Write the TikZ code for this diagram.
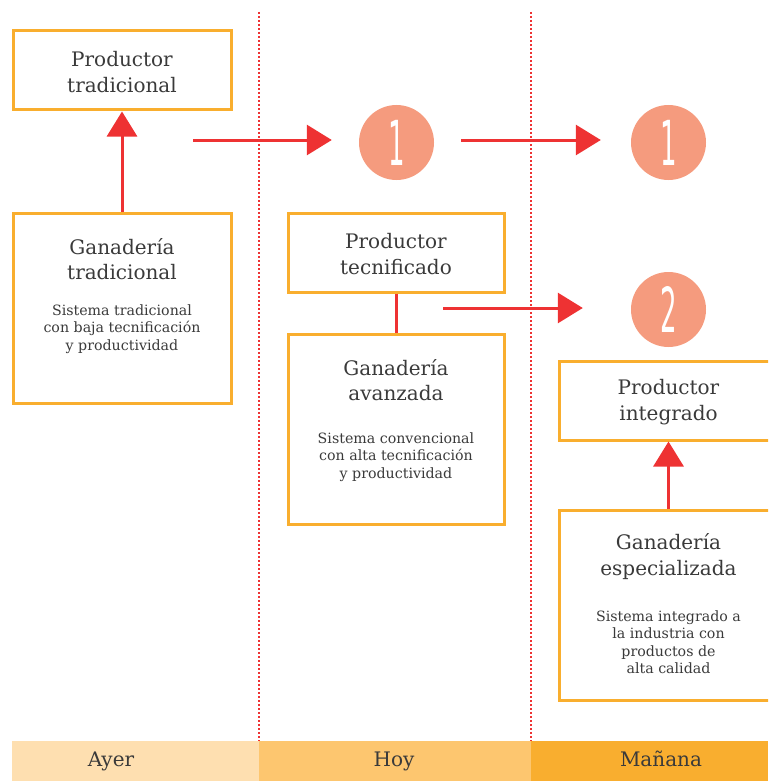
\documentclass[tikz,border=0pt]{standalone}
\usepackage{fontspec}
\setmainfont{DejaVu Serif}
\newfontfamily\digitfont{DejaVu Sans}
\usetikzlibrary{arrows.meta,shapes,positioning}

\definecolor{boxorange}{HTML}{F9AE2E}
\definecolor{flowred}{HTML}{EE3233}
\definecolor{stepsalmon}{HTML}{F59B7E}
\definecolor{textgray}{HTML}{3A3A3A}
\definecolor{ayerfill}{HTML}{FEDFB0}
\definecolor{hoyfill}{HTML}{FDC66F}
\definecolor{mananafill}{HTML}{F9AE2F}

\tikzset{
  box/.style={draw=boxorange, line width=3pt, rectangle, minimum width=218pt, inner sep=0pt},
  smallbox/.style={box, minimum height=79pt},
  bigbox/.style={box, minimum height=190pt},
  title/.style={align=center, text=textgray, font=\fontsize{20}{25.5}\selectfont, inner sep=0pt},
  body/.style={align=center, text=textgray, font=\fontsize{14.2}{17.5}\selectfont, inner sep=0pt},
  stepcircle/.style={circle, fill=stepsalmon, minimum size=75pt, inner sep=0pt, text=white,
    font=\digitfont\fontsize{62}{62}\selectfont},
  flow/.style={draw=flowred, line width=3pt, -{Triangle[length=25pt, width=30pt]}},
  link/.style={draw=flowred, line width=3pt},
  timeline/.style={draw=flowred, line width=1.2pt, dash pattern=on 2pt off 2pt},
  band/.style={rectangle, minimum height=40pt, inner sep=0pt},
  bandlabel/.style={anchor=base, text=textgray, font=\fontsize{20}{20}\selectfont, inner sep=0pt}
}

\begin{document}
\begin{tikzpicture}[x=1pt, y=-1pt]

  \useasboundingbox (0,0) rectangle (768,781);
  \clip (0,0) rectangle (768,781);

  % Time bands along the bottom.
  \node [band, fill=ayerfill, minimum width=247pt] (ayer-band) at (135.5,761) {};
  \node [band, fill=hoyfill, minimum width=272pt] (hoy-band) at (395,761) {};
  \node [band, fill=mananafill, minimum width=237pt] (manana-band) at (649.5,761) {};

  \node [bandlabel] (ayer-label) at (111,766) {Ayer};
  \node [bandlabel] (hoy-label) at (394,766) {Hoy};
  \node [bandlabel] (manana-label) at (661,766) {Mañana};

  % Dotted separators between the columns.
  \draw [timeline] (259,12) -- (259,741);
  \draw [timeline] (531,12) -- (531,741);

  % Ayer column.
  \node [smallbox] (prod-trad) at (122,70.5) {};
  \node [title] (prod-trad-title) at (122,72) {Productor\\tradicional};

  \node [bigbox] (gan-trad) at (122,308) {};
  \node [title] (gan-trad-title) at (122,259) {Ganadería\\tradicional};
  \node [body] (gan-trad-body) at (122,329) {Sistema tradicional\\con baja tecnificación\\y productividad};

  \draw [flow] (gan-trad.north) -- (prod-trad.south);

  % Hoy column.
  \node [stepcircle] (hoy-step) at (396.5,142.5) {\scalebox{0.42}[1]{1}};

  \node [smallbox, minimum width=216pt] (prod-tec) at (396,252.5) {};
  \node [title] (prod-tec-title) at (396,254) {Productor\\tecnificado};

  \node [bigbox, minimum width=216pt] (gan-av) at (396,429) {};
  \node [title] (gan-av-title) at (396,380) {Ganadería\\avanzada};
  \node [body] (gan-av-body) at (396,457) {Sistema convencional\\con alta tecnificación\\y productividad};

  \draw [link] (prod-tec.south) -- (gan-av.north);

  % Manana column.
  \node [stepcircle] (manana-step-one) at (668.5,142.5) {\scalebox{0.42}[1]{1}};
  \node [stepcircle] (manana-step-two) at (668.5,309.5) {\scalebox{0.42}[1]{2}};

  \node [smallbox] (prod-int) at (668.5,400.5) {};
  \node [title] (prod-int-title) at (668.5,402) {Productor\\integrado};

  \node [bigbox] (gan-esp) at (668.5,605) {};
  \node [title] (gan-esp-title) at (668.5,556.5) {Ganadería\\especializada};
  \node [body] (gan-esp-body) at (668.5,642) {Sistema integrado a\\la industria con\\productos de\\alta calidad};

  \draw [flow] (gan-esp.north) -- (prod-int.south);

  % Arrows between the columns.
  \coordinate (ayer-out) at (193,140);
  \coordinate (hoy-out) at (461,140);
  \coordinate (tec-out) at (443,308);

  \draw [flow, shorten >=27pt] (ayer-out) -- (ayer-out -| hoy-step.west);
  \draw [flow, shorten >=30pt] (hoy-out) -- (hoy-out -| manana-step-one.west);
  \draw [flow, shorten >=48pt] (tec-out) -- (tec-out -| manana-step-two.west);

\end{tikzpicture}
\end{document}
